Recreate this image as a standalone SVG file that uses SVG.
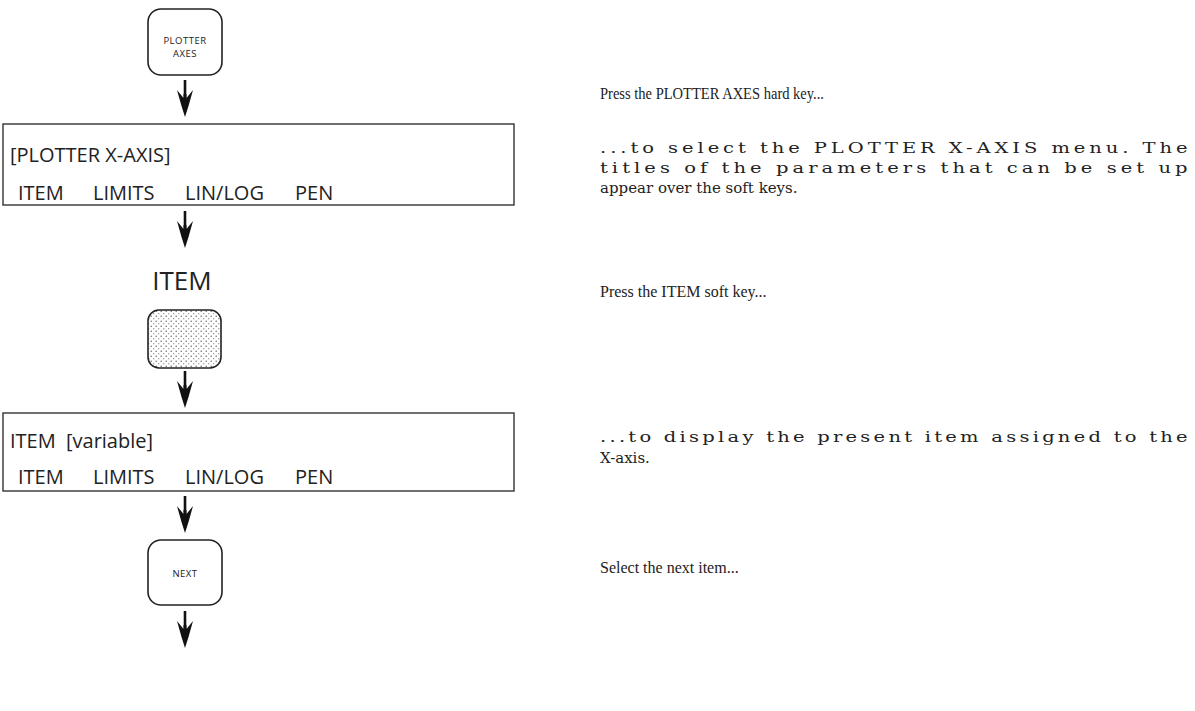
<svg xmlns="http://www.w3.org/2000/svg" width="1195" height="711" viewBox="0 0 1195 711">
<style>
.key{fill:#fff;stroke:#222;stroke-width:1.6}
.box{fill:#fff;stroke:#333;stroke-width:1.4}
.ks{font-family:"Open Sans","Liberation Sans",sans-serif;font-size:9.5px;fill:#222;text-anchor:middle;letter-spacing:0.5px}
.lcd{font-family:"Open Sans","Liberation Sans",sans-serif;font-size:20px;fill:#222}
.note{font-family:"Liberation Serif",serif;font-size:16px;fill:#222}
.wide{font-family:"DejaVu Serif","Liberation Serif",serif;font-size:15px;fill:#222}
.shaft{stroke:#111;stroke-width:2.6;fill:none}
.head{fill:#111}
</style>
<defs>
<pattern id="dots" width="5" height="5" patternUnits="userSpaceOnUse">
<rect width="5" height="5" fill="#fff"/>
<circle cx="1.2" cy="1.2" r="0.75" fill="#666"/>
<circle cx="3.7" cy="3.7" r="0.65" fill="#888"/>
</pattern>
<g id="arr">
<line class="shaft" x1="0" y1="0" x2="0" y2="22"/>
<path class="head" d="M-8,10 L-1.5,18 L-1.5,14 L1.5,14 L1.5,18 L8,10 L3.5,26 L0,37 L-3.5,26 Z"/>
</g>
</defs>
<g id="connectors">
<use href="#arr" x="185" y="80"/>
<use href="#arr" x="185" y="211"/>
<use href="#arr" x="185" y="371"/>
<use href="#arr" x="185" y="496"/>
<use href="#arr" x="185" y="611"/>
</g>
<g id="key-plotter-axes">
<rect class="key" x="148" y="9" width="74" height="66" rx="13"/>
<text class="ks" x="185" y="44">PLOTTER</text>
<text class="ks" x="185" y="57">AXES</text>
</g>
<g id="menu-xaxis">
<rect class="box" x="3" y="124" width="511" height="81"/>
<text class="lcd" x="10" y="162">[PLOTTER X-AXIS]</text>
<text class="lcd" x="18" y="200">ITEM</text>
<text class="lcd" x="93" y="200">LIMITS</text>
<text class="lcd" x="185" y="200">LIN/LOG</text>
<text class="lcd" x="295" y="200">PEN</text>
</g>
<g id="key-item">
<text class="lcd" x="182" y="290" style="font-size:26px;text-anchor:middle">ITEM</text>
<rect x="148" y="310" width="73" height="58" rx="11" fill="url(#dots)" stroke="#222" stroke-width="1.6"/>
</g>
<g id="menu-item">
<rect class="box" x="3" y="413" width="511" height="78"/>
<text class="lcd" x="10" y="448">ITEM</text>
<text class="lcd" x="66" y="448">[variable]</text>
<text class="lcd" x="18" y="484">ITEM</text>
<text class="lcd" x="93" y="484">LIMITS</text>
<text class="lcd" x="185" y="484">LIN/LOG</text>
<text class="lcd" x="295" y="484">PEN</text>
</g>
<g id="key-next">
<rect class="key" x="148" y="540" width="74" height="65" rx="13"/>
<text class="ks" x="185" y="577">NEXT</text>
</g>
<g id="notes">
<text class="note" x="600" y="99" textLength="224" lengthAdjust="spacingAndGlyphs">Press the PLOTTER AXES hard key...</text>
<g transform="translate(600,0) scale(1.3,1)">
<text class="wide" x="0" y="153" textLength="452" lengthAdjust="spacing">...to select the PLOTTER X-AXIS menu.  The</text>
<text class="wide" x="0" y="173" textLength="452" lengthAdjust="spacing">titles of the parameters that can be set up</text>
<text class="wide" x="0" y="442" textLength="452" lengthAdjust="spacing">...to display the present item assigned to the</text>
</g>
<text class="wide" x="600" y="193">appear over the soft keys.</text>
<text class="note" x="600" y="297">Press the ITEM soft key...</text>
<text class="wide" x="600" y="463">X-axis.</text>
<text class="note" x="600" y="573">Select the next item...</text>
</g>
</svg>
